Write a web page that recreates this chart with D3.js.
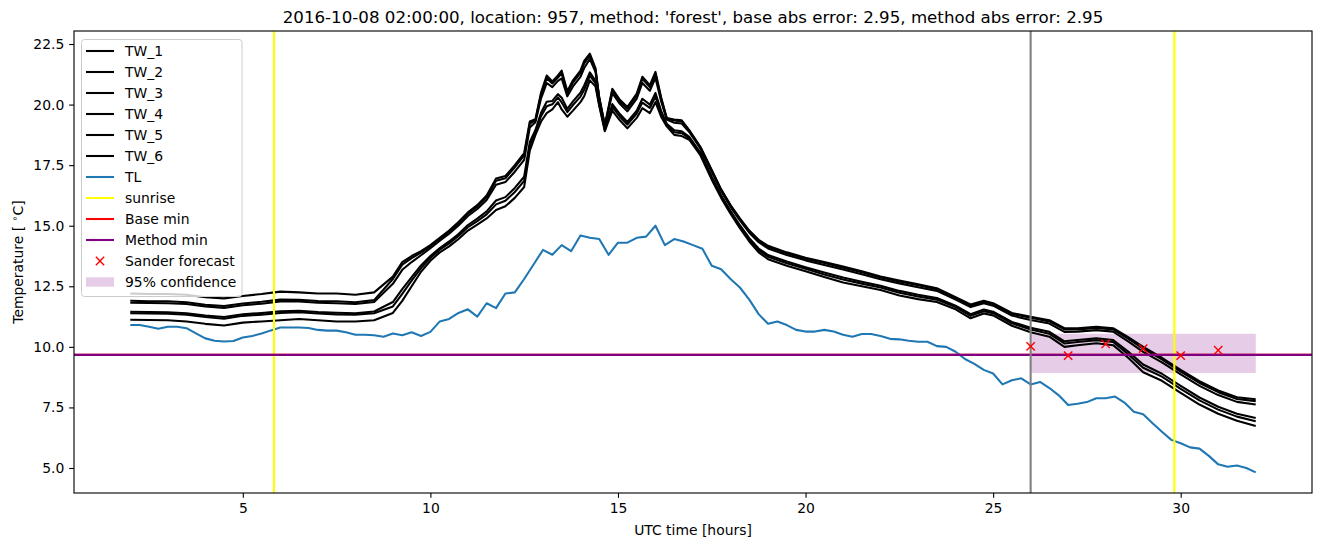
<!DOCTYPE html>
<html>
<head>
<meta charset="utf-8">
<script src="https://cdn.jsdelivr.net/npm/d3@7"></script>
<style>
body { margin: 0; background: #fff; }
svg { font-family: "DejaVu Sans", sans-serif; }
</style>
</head>
<body>
<div class="curr-graff"></div>
<script>
// hours for the TW_* series (not evenly spaced, denser around the peak)
let twHours = [2, 2.5, 3, 3.5, 4, 4.5, 5, 5.5, 6, 6.5, 7, 7.5, 8, 8.5,
    9, 9.25, 9.5, 9.75, 10, 10.25, 10.5, 10.75, 11, 11.25, 11.5, 11.75, 12, 12.25, 12.5,
    12.65, 12.8, 12.95, 13.1, 13.25, 13.4, 13.5, 13.65, 13.8, 14.0, 14.1, 14.25, 14.4, 14.5,
    14.65, 14.85, 15.05, 15.25, 15.5, 15.65, 15.85, 16.0, 16.15, 16.3, 16.5, 16.7, 16.9, 17.2,
    17.5, 17.75, 18, 18.25, 18.5, 18.75, 19, 19.5, 20, 20.5, 21, 21.5, 22, 22.5, 23, 23.5,
    24, 24.4, 24.75, 25, 25.5, 26,
    26.5, 26.9, 27.25, 27.75, 28.2, 28.6, 29, 29.5, 30, 30.5, 31, 31.5, 32];

let tw1 = [12.2, 12.18, 12.18, 12.15, 12.05, 12.0, 12.1, 12.18, 12.28, 12.25, 12.2, 12.2, 12.15, 12.25,
    12.9, 13.5, 13.75, 13.95, 14.2, 14.5, 14.8, 15.15, 15.55, 15.85, 16.25, 16.95, 17.05, 17.5, 18.0,
    19.3, 19.4, 20.5, 21.2, 20.95, 21.2, 21.4, 20.55, 21.0, 21.4, 21.8, 22.1, 21.5, 20.3,
    19.15, 20.65, 20.2, 19.9, 20.45, 21.15, 20.8, 21.35, 20.3, 19.45, 19.38, 19.35, 18.95, 18.25,
    17.3, 16.5, 15.85, 15.3, 14.8, 14.42, 14.17, 13.9, 13.68, 13.5, 13.32, 13.12, 12.9, 12.74, 12.58, 12.42,
    12.05, 11.75, 11.9, 11.8, 11.4, 11.24,
    11.1, 10.77, 10.77, 10.83, 10.77, 10.4, 10.0, 9.55, 9.05, 8.58, 8.2, 7.92, 7.84];

let tw2 = [11.9, 11.88, 11.88, 11.84, 11.74, 11.69, 11.79, 11.86, 11.95, 11.94, 11.89, 11.88, 11.84, 11.93,
    12.8, 13.39, 13.66, 13.89, 14.15, 14.46, 14.75, 15.1, 15.5, 15.79, 16.18, 16.86, 16.96, 17.41, 17.9,
    19.22, 19.35, 20.42, 21.09, 20.87, 21.12, 21.29, 20.48, 20.91, 21.31, 21.7, 22.02, 21.45, 20.28,
    19.13, 20.59, 20.14, 19.84, 20.38, 21.06, 20.72, 21.26, 20.24, 19.43, 19.34, 19.3, 18.92, 18.23,
    17.27, 16.48, 15.83, 15.27, 14.77, 14.38, 14.13, 13.86, 13.64, 13.46, 13.27, 13.08, 12.86, 12.7, 12.54, 12.38,
    12.02, 11.71, 11.86, 11.77, 11.36, 11.2,
    11.05, 10.72, 10.72, 10.78, 10.72, 10.34, 9.93, 9.48, 8.98, 8.51, 8.13, 7.85, 7.76];

let tw3 = [11.82, 11.81, 11.8, 11.77, 11.67, 11.61, 11.72, 11.78, 11.87, 11.87, 11.82, 11.8, 11.77, 11.85,
    12.6, 13.18, 13.5, 13.78, 14.07, 14.38, 14.67, 15.01, 15.4, 15.69, 16.06, 16.69, 16.8, 17.23, 17.72,
    19.06, 19.27, 20.26, 20.89, 20.72, 20.98, 21.08, 20.34, 20.75, 21.14, 21.51, 21.88, 21.35, 20.23,
    19.1, 20.47, 20.03, 19.72, 20.25, 20.89, 20.57, 21.1, 20.14, 19.38, 19.25, 19.22, 18.87, 18.18,
    17.22, 16.43, 15.78, 15.22, 14.71, 14.32, 14.06, 13.79, 13.57, 13.38, 13.19, 13.0, 12.79, 12.62, 12.46, 12.31,
    11.95, 11.64, 11.8, 11.7, 11.29, 11.11,
    10.96, 10.62, 10.63, 10.69, 10.63, 10.23, 9.79, 9.36, 8.86, 8.39, 8.01, 7.73, 7.62];

let tw4 = [11.45, 11.44, 11.43, 11.39, 11.29, 11.23, 11.34, 11.4, 11.47, 11.49, 11.44, 11.41, 11.39, 11.46,
    11.85, 12.38, 12.88, 13.36, 13.75, 14.08, 14.35, 14.66, 15.03, 15.29, 15.59, 16.04, 16.18, 16.56, 17.02,
    18.46, 18.95, 19.66, 20.12, 20.15, 20.43, 20.28, 19.82, 20.13, 20.49, 20.79, 21.33, 20.98, 20.06,
    18.98, 20.02, 19.61, 19.28, 19.75, 20.24, 20.0, 20.48, 19.74, 19.21, 18.94, 18.9, 18.67, 18.01,
    17.02, 16.26, 15.61, 15.02, 14.49, 14.06, 13.79, 13.52, 13.29, 13.07, 12.86, 12.69, 12.52, 12.31, 12.15, 12.02,
    11.7, 11.35, 11.54, 11.45, 11.03, 10.79,
    10.62, 10.23, 10.28, 10.35, 10.28, 9.81, 9.27, 8.89, 8.39, 7.91, 7.53, 7.24, 7.06];

let tw5 = [11.39, 11.38, 11.37, 11.33, 11.23, 11.16, 11.28, 11.33, 11.4, 11.43, 11.38, 11.34, 11.33, 11.39,
    11.67, 12.19, 12.73, 13.25, 13.67, 14.01, 14.27, 14.58, 14.94, 15.19, 15.47, 15.88, 16.03, 16.39, 16.85,
    18.32, 18.87, 19.52, 19.93, 20.01, 20.3, 20.09, 19.69, 19.98, 20.33, 20.61, 21.2, 20.89, 20.01,
    18.95, 19.91, 19.5, 19.18, 19.63, 20.08, 19.86, 20.33, 19.64, 19.16, 18.86, 18.82, 18.62, 17.96,
    16.97, 16.21, 15.56, 14.97, 14.43, 13.99, 13.72, 13.45, 13.22, 12.99, 12.78, 12.61, 12.45, 12.23, 12.08, 11.95,
    11.64, 11.28, 11.47, 11.39, 10.97, 10.72,
    10.54, 10.14, 10.2, 10.27, 10.2, 9.7, 9.14, 8.77, 8.27, 7.79, 7.41, 7.12, 6.93];

let tw6 = [11.12, 11.11, 11.1, 11.05, 10.95, 10.88, 11.0, 11.05, 11.1, 11.15, 11.1, 11.05, 11.05, 11.1,
    11.4, 11.9, 12.5, 13.1, 13.55, 13.9, 14.15, 14.45, 14.8, 15.05, 15.3, 15.65, 15.8, 16.15, 16.6,
    18.1, 18.75, 19.3, 19.65, 19.8, 20.1, 19.8, 19.5, 19.75, 20.1, 20.35, 21.0, 20.75, 19.95,
    18.9, 19.75, 19.35, 19.02, 19.45, 19.85, 19.65, 20.1, 19.5, 19.1, 18.75, 18.7, 18.55, 17.9,
    16.9, 16.15, 15.5, 14.9, 14.35, 13.9, 13.62, 13.35, 13.12, 12.88, 12.66, 12.5, 12.35, 12.12, 11.97, 11.85,
    11.55, 11.18, 11.38, 11.3, 10.87, 10.6,
    10.42, 10.0, 10.07, 10.15, 10.07, 9.55, 8.95, 8.6, 8.1, 7.62, 7.24, 6.95, 6.73];

// TL, every quarter hour from 2 to 32
let tlHours = [2, 2.25, 2.5, 2.75, 3, 3.25, 3.5, 3.75, 4, 4.25, 4.5, 4.75, 5, 5.25, 5.5, 5.75,
    6, 6.25, 6.5, 6.75, 7, 7.25, 7.5, 7.75, 8, 8.25, 8.5, 8.75, 9, 9.25, 9.5, 9.75,
    10, 10.25, 10.5, 10.75, 11, 11.25, 11.5, 11.75, 12, 12.25, 12.5, 12.75, 13, 13.25, 13.5, 13.75,
    14, 14.25, 14.5, 14.75, 15, 15.25, 15.5, 15.75, 16, 16.25, 16.5, 16.75, 17, 17.25, 17.5, 17.75,
    18, 18.25, 18.5, 18.75, 19, 19.25, 19.5, 19.75, 20, 20.25, 20.5, 20.75, 21, 21.25, 21.5, 21.75,
    22, 22.25, 22.5, 22.75, 23, 23.25, 23.5, 23.75, 24, 24.25, 24.5, 24.75, 25, 25.25, 25.5, 25.75,
    26, 26.25, 26.5, 26.75, 27, 27.25, 27.5, 27.75, 28, 28.25, 28.5, 28.75, 29, 29.25, 29.5, 29.75,
    30, 30.25, 30.5, 30.75, 31, 31.25, 31.5, 31.75, 32];

let tl = [10.9, 10.9, 10.83, 10.75, 10.83, 10.83, 10.77, 10.56, 10.35, 10.25, 10.22, 10.24, 10.39, 10.45, 10.55, 10.68,
    10.8, 10.8, 10.8, 10.78, 10.7, 10.67, 10.67, 10.6, 10.5, 10.5, 10.48, 10.42, 10.55, 10.48, 10.6, 10.45,
    10.62, 11.05, 11.15, 11.4, 11.55, 11.25, 11.8, 11.6, 12.2, 12.25, 12.8, 13.4, 14.0, 13.8, 14.2, 13.95,
    14.6, 14.5, 14.45, 13.8, 14.3, 14.3, 14.5, 14.55, 15.0, 14.2, 14.45, 14.35, 14.2, 14.05, 13.35, 13.2,
    12.8, 12.45, 11.95, 11.35, 10.95, 11.05, 10.9, 10.7, 10.63, 10.63, 10.7, 10.63, 10.5, 10.42, 10.53, 10.53,
    10.45, 10.33, 10.31, 10.25, 10.21, 10.21, 10.03, 10.0, 9.8, 9.5, 9.3, 9.05, 8.9, 8.45, 8.62, 8.7,
    8.45, 8.55, 8.3, 8.0, 7.6, 7.65, 7.72, 7.88, 7.88, 7.95, 7.7, 7.32, 7.22, 6.85, 6.5, 6.16,
    6.02, 5.85, 5.8, 5.5, 5.15, 5.05, 5.1, 5.0, 4.82];

let sunriseHours = [5.83, 29.83];
let forecastHour = 26;
let baseMin = 9.67;
let methodMin = 9.67;

let sanderHours = [26, 27, 28, 29, 30, 31];
let sanderValues = [10.02, 9.64, 10.12, 9.93, 9.64, 9.86];

let confHours = [26, 32];
let confLow = [8.92, 8.92];
let confHigh = [10.54, 10.54];

let xTicks = [5, 10, 15, 20, 25, 30];
let yTicks = [5.0, 7.5, 10.0, 12.5, 15.0, 17.5, 20.0, 22.5];

let titleText = "2016-10-08 02:00:00, location: 957, method: 'forest', base abs error: 2.95, method abs error: 2.95";

function drawChart() {
    let width = 1324;
    let height = 547;

    let left = 74, right = 1312, top = 31, bottom = 493;
    let tickLen = 4.86;
    let lw = 2.08;   // 1.5pt at 100 dpi

    let svg = d3.select(".curr-graff")
        .append("svg")
        .attr("width", width)
        .attr("height", height);

    let xScale = d3.scaleLinear().domain([0.5, 33.5]).range([left, right]);
    let yScale = d3.scaleLinear().domain([3.968, 23.037]).range([bottom, top]);

    let twSeries = [tw1, tw2, tw3, tw4, tw5, tw6];

    let line = d3.line()
        .x(function(d) { return xScale(d[0]); })
        .y(function(d) { return yScale(d[1]); });

    let plot = svg.append("g");

    // 95% confidence band (below the lines, like a matplotlib collection)
    plot.append("path")
        .datum(confHours.map(function(h, i) { return [h, confLow[i], confHigh[i]]; }))
        .attr("fill", "purple")
        .attr("fill-opacity", 0.2)
        .attr("d", d3.area()
            .x(function(d) { return xScale(d[0]); })
            .y0(function(d) { return yScale(d[1]); })
            .y1(function(d) { return yScale(d[2]); }));

    // TW lines
    twSeries.forEach(function(vals) {
        plot.append("path")
            .datum(twHours.map(function(h, i) { return [h, vals[i]]; }))
            .attr("fill", "none")
            .attr("stroke", "#000")
            .attr("stroke-width", lw)
            .attr("stroke-linejoin", "round")
            .attr("d", line);
    });

    // TL
    plot.append("path")
        .datum(tlHours.map(function(h, i) { return [h, tl[i]]; }))
        .attr("fill", "none")
        .attr("stroke", "#1f77b4")
        .attr("stroke-width", lw)
        .attr("stroke-linejoin", "round")
        .attr("d", line);

    // sunrise lines
    plot.selectAll(".sunrise")
        .data(sunriseHours)
        .enter().append("line")
        .attr("x1", function(d) { return xScale(d); })
        .attr("x2", function(d) { return xScale(d); })
        .attr("y1", top)
        .attr("y2", bottom)
        .attr("stroke", "#ffff00")
        .attr("stroke-width", lw);

    // base min and method min (same value, purple on top)
    [[baseMin, "red"], [methodMin, "purple"]].forEach(function(m) {
        plot.append("line")
            .attr("x1", left)
            .attr("x2", right)
            .attr("y1", yScale(m[0]))
            .attr("y2", yScale(m[0]))
            .attr("stroke", m[1])
            .attr("stroke-width", lw);
    });

    // forecast time
    plot.append("line")
        .attr("x1", xScale(forecastHour))
        .attr("x2", xScale(forecastHour))
        .attr("y1", top)
        .attr("y2", bottom)
        .attr("stroke", "grey")
        .attr("stroke-width", lw);

    // Sander forecast markers
    let s = 4.17;
    plot.selectAll(".sander")
        .data(sanderHours.map(function(h, i) { return [h, sanderValues[i]]; }))
        .enter().append("path")
        .attr("d", function(d) {
            let cx = xScale(d[0]), cy = yScale(d[1]);
            return `M${cx - s},${cy - s}L${cx + s},${cy + s}M${cx - s},${cy + s}L${cx + s},${cy - s}`;
        })
        .attr("stroke", "red")
        .attr("stroke-width", 1.39)
        .attr("fill", "none");

    // axes
    let axisX = d3.axisBottom(xScale)
        .tickValues(xTicks)
        .tickFormat(d3.format("d"))
        .tickSize(tickLen)
        .tickSizeOuter(0)
        .tickPadding(4.9);

    let axisY = d3.axisLeft(yScale)
        .tickValues(yTicks)
        .tickFormat(d3.format(".1f"))
        .tickSize(tickLen)
        .tickSizeOuter(0)
        .tickPadding(4.9);

    let gx = svg.append("g")
        .attr("transform", `translate(0, ${bottom})`)
        .call(axisX);

    let gy = svg.append("g")
        .attr("transform", `translate(${left}, 0)`)
        .call(axisY);

    [gx, gy].forEach(function(g) {
        g.select(".domain").remove();
        g.selectAll("line").attr("stroke", "#000").attr("stroke-width", 1.11);
        g.selectAll("text")
            .attr("fill", "#000")
            .style("font-size", "13.9px")
            .style("font-family", "DejaVu Sans");
    });

    // frame
    svg.append("rect")
        .attr("x", left)
        .attr("y", top)
        .attr("width", right - left)
        .attr("height", bottom - top)
        .attr("fill", "none")
        .attr("stroke", "#000")
        .attr("stroke-width", 1.11);

    // title and axis labels
    svg.append("text")
        .attr("x", (left + right) / 2)
        .attr("y", 23)
        .attr("text-anchor", "middle")
        .style("font-size", "16.67px")
        .text(titleText);

    svg.append("text")
        .attr("x", (left + right) / 2)
        .attr("y", 535)
        .attr("text-anchor", "middle")
        .style("font-size", "13.9px")
        .text("UTC time [hours]");

    let yl = svg.append("text")
        .attr("transform", `translate(23, ${(top + bottom) / 2}) rotate(-90)`)
        .attr("text-anchor", "middle")
        .style("font-size", "13.9px");
    yl.append("tspan").text("Temperature [ ");
    yl.append("tspan").attr("dy", -5).style("font-size", "9.7px").text("\u2218");
    yl.append("tspan").attr("dy", 5).text("C]");

    // legend
    let legendItems = [
        { label: "TW_1", kind: "line", color: "#000" },
        { label: "TW_2", kind: "line", color: "#000" },
        { label: "TW_3", kind: "line", color: "#000" },
        { label: "TW_4", kind: "line", color: "#000" },
        { label: "TW_5", kind: "line", color: "#000" },
        { label: "TW_6", kind: "line", color: "#000" },
        { label: "TL", kind: "line", color: "#1f77b4" },
        { label: "sunrise", kind: "line", color: "#ffff00" },
        { label: "Base min", kind: "line", color: "red" },
        { label: "Method min", kind: "line", color: "purple" },
        { label: "Sander forecast", kind: "marker", color: "red" },
        { label: "95% confidence", kind: "patch", color: "purple" }
    ];

    let legend = svg.append("g");
    legend.append("rect")
        .attr("x", 81.5)
        .attr("y", 39.5)
        .attr("width", 160.5)
        .attr("height", 257)
        .attr("rx", 3)
        .attr("fill", "#fff")
        .attr("fill-opacity", 0.8)
        .attr("stroke", "#cccccc")
        .attr("stroke-width", 1);

    let rowY = d3.scaleLinear().domain([0, 11]).range([51, 282]);

    legendItems.forEach(function(item, i) {
        let y = rowY(i);
        if (item.kind == "line") {
            legend.append("line")
                .attr("x1", 86).attr("x2", 114)
                .attr("y1", y).attr("y2", y)
                .attr("stroke", item.color)
                .attr("stroke-width", lw);
        } else if (item.kind == "marker") {
            legend.append("path")
                .attr("d", `M${100 - s},${y - s}L${100 + s},${y + s}M${100 - s},${y + s}L${100 + s},${y - s}`)
                .attr("stroke", item.color)
                .attr("stroke-width", 1.39);
        } else {
            legend.append("rect")
                .attr("x", 86).attr("y", y - 4.7)
                .attr("width", 28).attr("height", 9.4)
                .attr("fill", item.color)
                .attr("fill-opacity", 0.2);
        }
        legend.append("text")
            .attr("x", 125)
            .attr("y", y + 5)
            .style("font-size", "13.9px")
            .text(item.label);
    });
}

drawChart();
</script>
</body>
</html>
